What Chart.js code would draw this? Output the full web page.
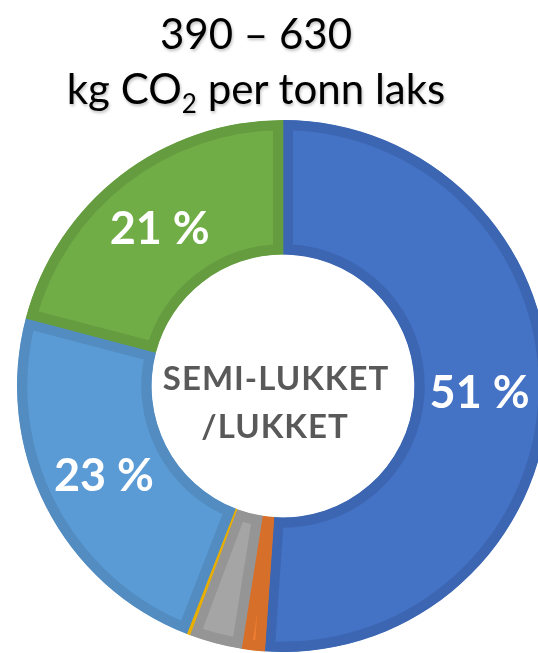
<!DOCTYPE html>
<html>
<head>
<meta charset="utf-8">
<script src="https://cdn.jsdelivr.net/npm/chart.js@4"></script>
<style>
html, body { margin: 0; padding: 0; background: #fff; overflow: hidden; }
#wrap { position: relative; width: 566px; height: 660px; }
.title {
  position: absolute; left: 0; width: 512px; text-align: center;
  font-family: Lato, sans-serif; font-size: 42px; line-height: 55px; color: #000;
  text-shadow: 1px 2px 3px rgba(0,0,0,0.25); white-space: nowrap;
}
</style>
</head>
<body>
<div id="wrap">
  <canvas id="myChart" width="566" height="660"></canvas>
  <div class="title" style="top:6px">390 – 630</div>
  <div class="title" style="top:61px">kg CO<span style="font-size:26px;position:relative;top:9px">2</span> per tonn laks</div>
</div>
<script>
// slices, clockwise from 12 o'clock
var categories = ["Blå", "Oransje", "Grå", "Gul", "Lyseblå", "Grønn"];
var shares = [51.1, 1.4, 3.2, 0.2, 23.2, 20.9];
var labelTexts = ["51 %", "", "", "", "23 %", "21 %"];
var centerLines = ["SEMI-LUKKET", "/LUKKET"];

var fills = ["#4472C4", "#ED7D31", "#A5A5A5", "#FFC000", "#5B9BD5", "#70AD47"];
var edges = ["#3D66B2", "#D66F2A", "#959595", "#E8AE00", "#528CC1", "#659C40"];

var sliceLabels = {
  id: 'sliceLabels',
  afterDatasetsDraw: function(chart) {
    var ctx = chart.ctx;
    var arcs = chart.getDatasetMeta(0).data;
    ctx.save();
    ctx.textAlign = 'center';
    ctx.textBaseline = 'alphabetic';
    ctx.fillStyle = '#fff';
    ctx.font = 'bold 45px Lato';
    arcs.forEach(function(arc, i) {
      if (!labelTexts[i]) return;
      var p = arc.tooltipPosition();
      ctx.fillText(labelTexts[i], p.x - 2, p.y + 15);
    });
    // text in the hole
    var a = arcs[0];
    ctx.fillStyle = '#595959';
    ctx.font = 'bold 33px Lato';
    ctx.letterSpacing = '1px';
    ctx.fillText(centerLines[0], a.x - 7, a.y + 4);
    ctx.fillText(centerLines[1], a.x - 8, a.y + 52);
    ctx.restore();
  }
};

new Chart(document.getElementById("myChart"), {
  type: 'doughnut',
  data: {
    labels: categories,
    datasets: [{
      data: shares,
      backgroundColor: fills,
      borderColor: edges,
      borderWidth: 10,
      borderAlign: 'inner',
      hoverOffset: 0,
      offset: 0
    }]
  },
  options: {
    responsive: false,
    animation: false,
    cutout: '49.4%',
    layout: { padding: { top: 120, left: 17, right: 17, bottom: 8 } },
    plugins: {
      legend: { display: false },
      tooltip: { enabled: false }
    }
  },
  plugins: [sliceLabels]
});
</script>
</body>
</html>
